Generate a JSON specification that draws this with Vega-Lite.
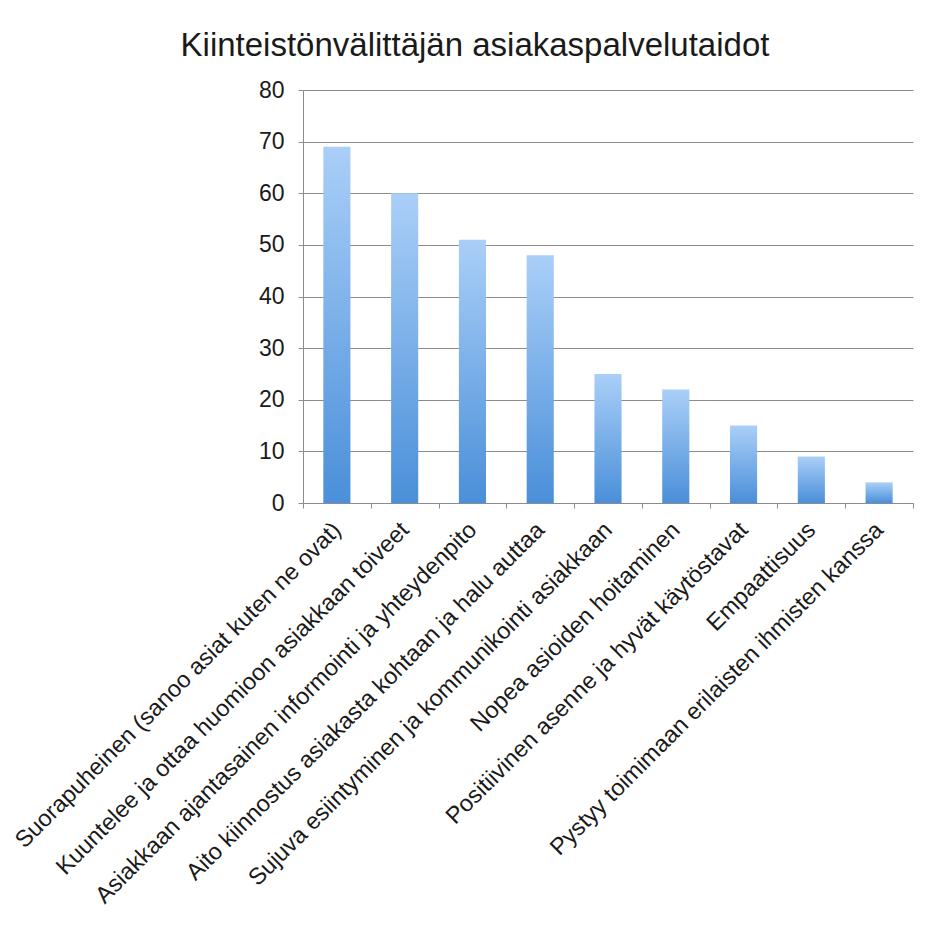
{
  "$schema": "https://vega.github.io/schema/vega-lite/v6.json",
  "autosize": "none",
  "width": 610,
  "height": 413,
  "padding": {"left": 303, "top": 90, "right": 17, "bottom": 423},
  "background": "white",
  "title": {
    "text": "Kiinteistönvälittäjän asiakaspalvelutaidot",
    "font": "Liberation Sans",
    "fontSize": 33,
    "fontWeight": "normal",
    "color": "#1a1a1a",
    "anchor": "middle",
    "dx": -133,
    "offset": 16
  },
  "data": {
    "values": [
      {"taito": "Suorapuheinen (sanoo asiat kuten ne ovat)", "arvo": 69},
      {"taito": "Kuuntelee ja ottaa huomioon asiakkaan toiveet", "arvo": 60},
      {"taito": "Asiakkaan ajantasainen informointi ja yhteydenpito", "arvo": 51},
      {"taito": "Aito kiinnostus asiakasta kohtaan ja halu auttaa", "arvo": 48},
      {"taito": "Sujuva esiintyminen ja kommunikointi asiakkaan", "arvo": 25},
      {"taito": "Nopea asioiden hoitaminen", "arvo": 22},
      {"taito": "Positiivinen asenne ja hyvät käytöstavat", "arvo": 15},
      {"taito": "Empaattisuus", "arvo": 9},
      {"taito": "Pystyy toimimaan erilaisten ihmisten kanssa", "arvo": 4}
    ]
  },
  "mark": {
    "type": "bar",
    "width": {"band": 0.4},
    "color": {
      "gradient": "linear",
      "x1": 0, "y1": 0, "x2": 0, "y2": 1,
      "stops": [
        {"offset": 0, "color": "#aacff8"},
        {"offset": 1, "color": "#4a8fd9"}
      ]
    }
  },
  "encoding": {
    "x": {
      "field": "taito",
      "type": "nominal",
      "sort": null,
      "title": null,
      "axis": {
        "labelAngle": -45,
        "labelFont": "Liberation Sans",
        "labelFontSize": 23.5,
        "labelColor": "#1a1a1a",
        "labelLimit": 0,
        "labelPadding": 18,
        "tickBand": "extent",
        "tickSize": 5,
        "tickColor": "#8c8c8c",
        "domainColor": "#8c8c8c",
        "labelAlign": "right",
        "labelBaseline": "middle",
        "labelOverlap": false
      },
      "scale": {"paddingInner": 0, "paddingOuter": 0}
    },
    "y": {
      "field": "arvo",
      "type": "quantitative",
      "title": null,
      "scale": {"domain": [0, 80]},
      "axis": {
        "values": [0, 10, 20, 30, 40, 50, 60, 70, 80],
        "labelFont": "Liberation Sans",
        "labelFontSize": 23,
        "labelColor": "#1a1a1a",
        "labelPadding": 14,
        "tickSize": 5,
        "tickColor": "#8c8c8c",
        "domainColor": "#8c8c8c",
        "gridColor": "#8c8c8c",
        "gridOpacity": 1
      }
    }
  },
  "config": {
    "view": {"stroke": null}
  }
}
